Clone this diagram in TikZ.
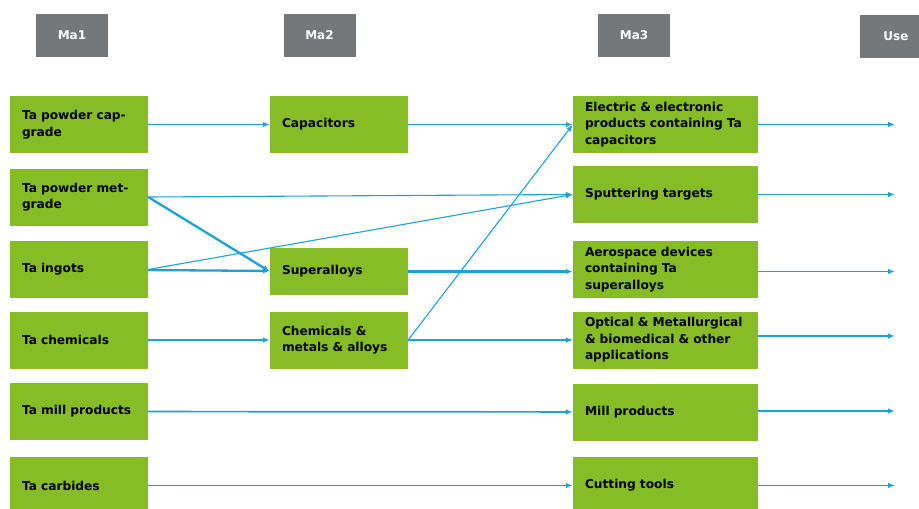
\documentclass[tikz,border=0pt]{standalone}
\usepackage{fontspec}
\setmainfont{DejaVu Sans}
\usetikzlibrary{arrows.meta}
\definecolor{tagreen}{HTML}{86BC25}
\definecolor{tagray}{HTML}{75787B}
\definecolor{tablue}{HTML}{1BA1DC}
\tikzset{
  stage/.style={fill=tagray, text=white, font=\bfseries\fontsize{12}{14}\selectfont,
    minimum width=72pt, minimum height=43pt, inner sep=0pt},
  matbox/.style={fill=tagreen, font=\bfseries\fontsize{12.2}{16.5}\selectfont,
    align=left, text width=114pt, inner xsep=12pt, inner ysep=0pt, minimum height=57pt},
  widebox/.style={matbox, text width=161pt},
  flow/.style={draw=tablue, line width=1.7pt, -{Latex[length=7pt,width=5.5pt]}},
  thinflow/.style={flow, line width=1.1pt},
  thickflow/.style={flow, line width=2.3pt},
}

\begin{document}
\begin{tikzpicture}[x=1pt,y=-1pt]
  \useasboundingbox (0,0) rectangle (919,509);

  % Stage headers
  \node[stage] (ma1) at (72, 35.5) {Ma1};
  \node[stage] (ma2) at (319.5, 35.5) {Ma2};
  \node[stage] (ma3) at (634, 35.5) {Ma3};
  \node[stage] (use) at (896, 36.5) {Use};

  % Ma1
  \node[matbox] (cap) at (79, 124.5) {Ta powder cap-\\grade};
  \node[matbox] (met) at (79, 197) {Ta powder met-\\grade};
  \node[matbox] (ingot) at (79, 269.5) {Ta ingots};
  \node[matbox] (chem) at (79, 340) {Ta chemicals};
  \node[matbox] (mill) at (79, 411.5) {Ta mill products};
  \node[matbox] (carb) at (79, 485.5) {Ta carbides};

  % Ma2
  \node[matbox] (capac) at (339, 124.5) {Capacitors};
  \node[matbox, minimum height=47pt] (super) at (339, 271.5) {Superalloys};
  \node[matbox] (chemmet) at (339, 340) {Chemicals \&\\metals \& alloys};

  % Ma3
  \node[widebox] (elec) at (665.5, 124.5) {Electric \& electronic\\products containing Ta\\capacitors};
  \node[widebox] (sput) at (665.5, 194.5) {Sputtering targets};
  \node[widebox] (aero) at (665.5, 269.5) {Aerospace devices\\containing Ta\\superalloys};
  \node[widebox] (optic) at (665.5, 340) {Optical \& Metallurgical\\\& biomedical \& other\\applications};
  \node[widebox] (millp) at (665.5, 412) {Mill products};
  \node[widebox] (cut) at (665.5, 485.5) {Cutting tools};

  % Use ends
  \coordinate (u1) at (895, 124.5);
  \coordinate (u2) at (895, 194.5);
  \coordinate (u3) at (895, 271.5);
  \coordinate (u4) at (895, 336);
  \coordinate (u5) at (895, 411);
  \coordinate (u6) at (895, 485.5);

  % Flows
  \draw[flow] (cap) -- (capac);
  \draw[flow] (capac) -- (elec);
  \draw[thinflow] (met.east) -- (sput.west);
  \draw[thickflow] (met.east) -- (super.west);
  \draw[thinflow] (ingot.east) -- (sput.west);
  \draw[thickflow] (ingot) -- (super);
  \draw[thickflow] (super) -- (aero.west |- super);
  \draw[flow] (chem) -- (chemmet);
  \draw[thinflow] (chemmet.east) -- (elec.west);
  \draw[thinflow] (chemmet) -- (optic);
  \draw[flow] (mill) -- (millp);
  \draw[flow] (carb) -- (cut);

  \foreach \src/\dst in {elec/u1, sput/u2, aero/u3, optic/u4, millp/u5, cut/u6}
    \draw[flow] (\src.east |- \dst) -- (\dst);
\end{tikzpicture}
\end{document}
